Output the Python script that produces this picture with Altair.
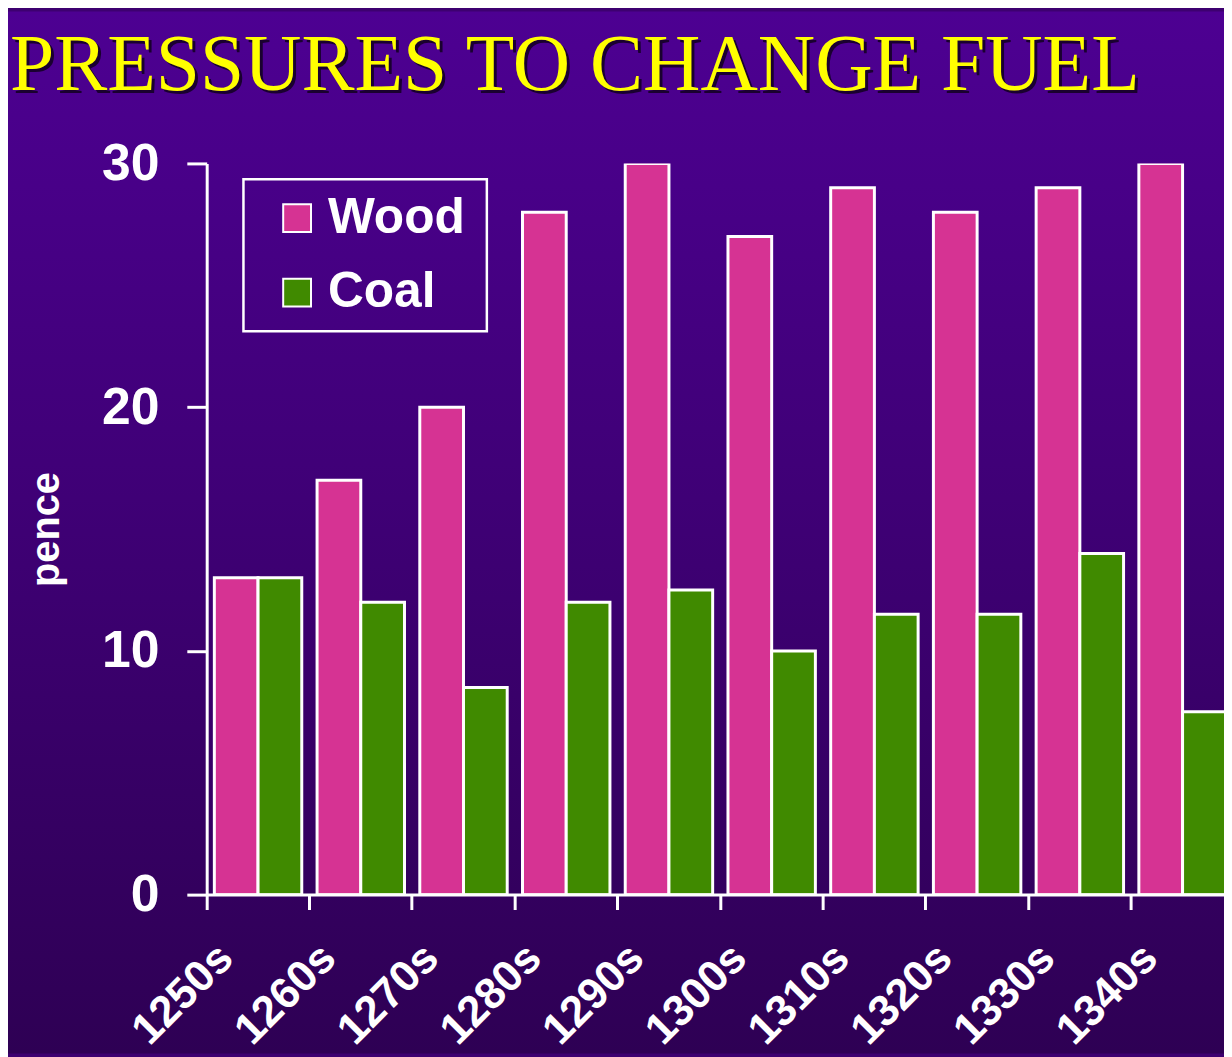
import altair as alt
import pandas as pd

decades = ["1250s", "1260s", "1270s", "1280s", "1290s", "1300s", "1310s", "1320s", "1330s", "1340s"]
wood = [13, 17, 20, 28, 30, 27, 29, 28, 29, 30]
coal = [13, 12, 8.5, 12, 12.5, 10, 11.5, 11.5, 14, 7.5]
fuels = ["Wood", "Coal"]
fuel_colors = ["#d63393", "#408a00"]
y_ticks = [0, 10, 20, 30]
title_text = "PRESSURES TO CHANGE FUEL"

rows = []
for d, w, c in zip(decades, wood, coal):
    rows.append({"decade": d, "fuel": "Wood", "pence": w})
    rows.append({"decade": d, "fuel": "Coal", "pence": c})
df = pd.DataFrame(rows)
one = pd.DataFrame({"a": [0]})

W, H = 1024, 736

bg = alt.Chart(one).mark_rect(
    fill=alt.LinearGradient(
        gradient="linear",
        stops=[alt.GradientStop(color="#4d0092", offset=0),
               alt.GradientStop(color="#3e0074", offset=0.5),
               alt.GradientStop(color="#2e0054", offset=1)],
        x1=0, x2=0, y1=0, y2=1),
).encode(x=alt.value(-200), x2=alt.value(W), y=alt.value(-153), y2=alt.value(H + 160))

shadow = alt.Chart(one).mark_text(
    text=title_text, font="Liberation Serif", fontSize=80, color="#1a0030",
    align="left", baseline="alphabetic",
).encode(x=alt.value(-195), y=alt.value(-71))

title = alt.Chart(one).mark_text(
    text=title_text, font="Liberation Serif", fontSize=80, color="#ffff00",
    align="left", baseline="alphabetic",
).encode(x=alt.value(-198), y=alt.value(-74))

legend_box = alt.Chart(one).mark_rect(
    fillOpacity=0, stroke="white", strokeWidth=2.5,
).encode(x=alt.value(37), x2=alt.value(282), y=alt.value(16), y2=alt.value(169))

bars = alt.Chart(df).mark_bar(stroke="white", strokeWidth=3, clip=True).encode(
    x=alt.X("decade:N", sort=decades,
            scale=alt.Scale(range=[0, 1034], paddingInner=0, paddingOuter=0),
            axis=alt.Axis(title=None, bandPosition=0, labelAngle=-45, labelAlign="right",
                          labelBaseline="middle", labelOffset=-32, labelPadding=42,
                          tickSize=15, labelFontSize=44, zindex=2)),
    xOffset=alt.XOffset("fuel:N", sort=fuels,
                        scale=alt.Scale(paddingInner=0, paddingOuter=0.175)),
    y=alt.Y("pence:Q", scale=alt.Scale(domain=[0, 30], nice=False),
            axis=alt.Axis(title="pence", values=y_ticks, tickSize=20, labelPadding=28,
                          labelFontSize=52, grid=False, zindex=2,
                          titleX=-161, titleY=368, titleAngle=-90,
                          titleAlign="center", titleBaseline="middle", titleFontSize=40)),
    color=alt.Color("fuel:N", sort=fuels, title=None,
                    scale=alt.Scale(domain=fuels, range=fuel_colors),
                    legend=alt.Legend(orient="none", legendX=66, legendY=30, padding=0,
                                      symbolType="square", symbolSize=784,
                                      symbolStrokeColor="white", symbolStrokeWidth=2,
                                      labelFontSize=50, labelOffset=6, rowPadding=25)),
)

chart = alt.layer(bg, shadow, title, legend_box, bars).properties(
    width=W, height=H,
    padding={"left": 200, "top": 153, "right": 0, "bottom": 160},
    autosize=alt.AutoSizeParams(type="none"),
    background="#3d0070",
).configure_view(strokeWidth=0).configure_axis(
    domainColor="white", domainWidth=3, tickColor="white", tickWidth=3,
    labelColor="white", labelFont="Liberation Sans", labelFontWeight="bold",
    titleColor="white", titleFont="Liberation Sans", titleFontWeight="bold",
).configure_legend(
    labelColor="white", labelFont="Liberation Sans", labelFontWeight="bold",
)

chart.save("out.html", embed_options={"renderer": "svg", "actions": False})
